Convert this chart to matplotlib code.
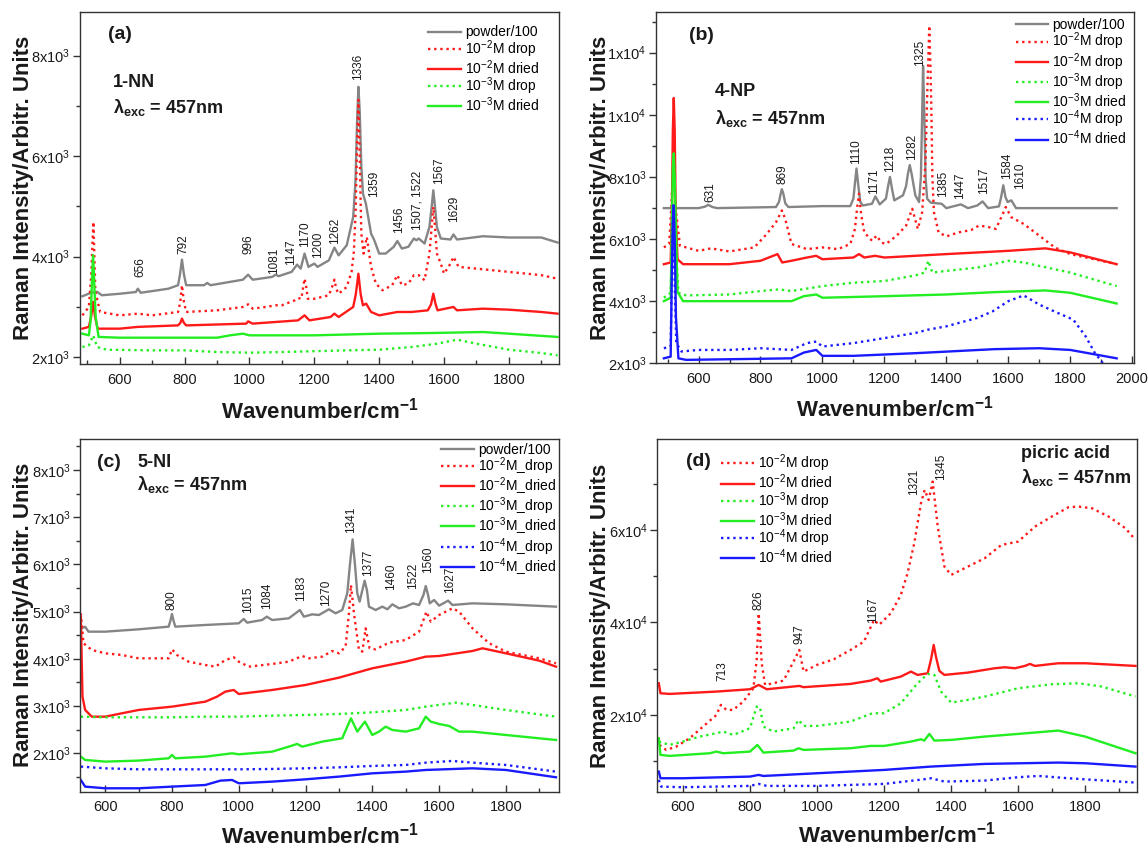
"""
Raman spectra of 1-NN, 4-NP, 5-NI and picric acid (drop vs dried), 457 nm excitation
"""
import matplotlib

matplotlib.use("Agg")
import matplotlib.pyplot as plt
import numpy as np
from matplotlib.ticker import MultipleLocator

plt.rcParams["font.family"] = ["Liberation Sans", "DejaVu Sans"]
plt.rcParams["mathtext.fontset"] = "custom"
plt.rcParams["mathtext.rm"] = "Liberation Sans"
plt.rcParams["mathtext.it"] = "Liberation Sans:italic"
plt.rcParams["mathtext.bf"] = "Liberation Sans:bold"

# ---------------------------------------------------------------- panel (a) 1-NN
a_powder = [(485, 3210), (510, 3275), (530, 3300), (545, 3230), (600, 3260), (650, 3295),
            (656, 3360), (665, 3280), (750, 3360), (780, 3430), (786, 3650), (792, 3940),
            (798, 3650), (805, 3430), (860, 3430), (870, 3475), (880, 3430), (980, 3540),
            (996, 3640), (1010, 3540), (1070, 3595), (1081, 3640), (1090, 3610), (1130, 3695),
            (1147, 3840), (1158, 3760), (1170, 4060), (1182, 3795), (1200, 3860), (1210, 3795),
            (1245, 3925), (1262, 4180), (1275, 4025), (1300, 4225), (1320, 4790), (1327, 5500),
            (1332, 6700), (1336, 7380), (1340, 6900), (1345, 5800), (1350, 5255), (1359, 5055),
            (1375, 4460), (1385, 4325), (1400, 4060), (1420, 4060), (1445, 4195), (1456, 4310),
            (1470, 4160), (1490, 4195), (1507, 4360), (1515, 4325), (1522, 4360), (1540, 4260),
            (1555, 4590), (1562, 5000), (1567, 5320), (1572, 5000), (1578, 4590), (1590, 4360),
            (1620, 4340), (1629, 4440), (1640, 4340), (1720, 4405), (1800, 4380), (1900, 4380),
            (1950, 4280)]
a_drop2 = [(485, 2830), (505, 2995), (512, 3600), (519, 4690), (525, 3300), (540, 2897),
           (600, 2830), (656, 2864), (700, 2830), (780, 2897), (787, 3100), (792, 3430),
           (798, 3100), (805, 2897), (900, 2930), (980, 2997), (996, 3050), (1010, 2963),
           (1050, 2997), (1081, 3030), (1100, 3030), (1140, 3130), (1150, 3175), (1160, 3160),
           (1166, 3400), (1170, 3560), (1175, 3400), (1180, 3160), (1200, 3160), (1245, 3230),
           (1258, 3450), (1262, 3540), (1268, 3350), (1275, 3260), (1300, 3395), (1315, 3700),
           (1322, 4100), (1328, 5000), (1332, 6300), (1336, 7120), (1340, 6000), (1345, 4460),
           (1352, 4060), (1362, 4390), (1375, 3795), (1390, 3460), (1410, 3330), (1440, 3430),
           (1456, 3630), (1470, 3430), (1490, 3460), (1507, 3630), (1522, 3630), (1540, 3530),
           (1555, 4060), (1562, 4600), (1567, 4990), (1572, 4600), (1578, 4060), (1590, 3860),
           (1600, 3660), (1620, 3860), (1629, 3995), (1645, 3795), (1700, 3760), (1800, 3695),
           (1900, 3630), (1950, 3560)]
a_dried2 = [(485, 2565), (505, 2600), (512, 2800), (518, 3100), (524, 2800), (532, 2565),
            (600, 2565), (656, 2600), (780, 2630), (787, 2680), (792, 2765), (798, 2680),
            (805, 2630), (990, 2665), (996, 2710), (1010, 2665), (1150, 2730), (1170, 2830),
            (1185, 2730), (1250, 2797), (1262, 2864), (1275, 2797), (1320, 2997), (1328, 3250),
            (1336, 3660), (1343, 3250), (1350, 3030), (1360, 3063), (1375, 2897), (1400, 2830),
            (1456, 2897), (1500, 2897), (1550, 2930), (1560, 3050), (1567, 3262), (1574, 3050),
            (1580, 2930), (1629, 2997), (1640, 2930), (1720, 2963), (1800, 2943), (1900, 2897),
            (1950, 2864)]
a_drop3 = [(485, 2200), (505, 2233), (513, 2350), (518, 2432), (523, 2350), (530, 2200),
           (560, 2146), (700, 2133), (800, 2133), (900, 2100), (1000, 2086), (1100, 2100),
           (1300, 2133), (1400, 2146), (1500, 2200), (1580, 2266), (1640, 2346), (1700, 2266),
           (1800, 2146), (1900, 2080), (1950, 2033)]
a_dried3 = [(485, 2465), (505, 2432), (510, 2700), (514, 3400), (518, 4027), (522, 3400),
            (526, 2797), (535, 2400), (600, 2385), (900, 2385), (940, 2432), (980, 2465),
            (1000, 2432), (1200, 2432), (1400, 2465), (1560, 2478), (1720, 2498), (1800, 2465),
            (1950, 2400)]
a_peak_text = ["656", "792", "996", "1081", "1147", "1170", "1200", "1262", "1336", "1359",
               "1456", "1507, 1522", "1567", "1629"]
a_peak_x = [663, 795, 998, 1077, 1128, 1170, 1211, 1264, 1334, 1384, 1461, 1518, 1585, 1630]
a_peak_y = [3595, 4047, 4047, 3648, 3827, 4193, 3980, 4260, 7515, 5190, 4460, 4525, 5455, 4690]
a_yticks = [2000, 4000, 6000, 8000]
a_yticklabels = [r"2x10$^{3}$", r"4x10$^{3}$", r"6x10$^{3}$", r"8x10$^{3}$"]

# ---------------------------------------------------------------- panel (b) 4-NP
b_powder = [(488, 6995), (600, 6995), (620, 7040), (631, 7100), (645, 7030), (660, 6995),
            (850, 7030), (860, 7200), (865, 7450), (869, 7605), (874, 7450), (880, 7150),
            (890, 7030), (1000, 7060), (1090, 7060), (1100, 7300), (1105, 7800), (1110, 8270),
            (1115, 7800), (1122, 7200), (1130, 7080), (1160, 7135), (1171, 7375), (1185, 7115),
            (1205, 7300), (1212, 7700), (1218, 8000), (1225, 7600), (1232, 7245), (1260, 7405),
            (1270, 7700), (1276, 8100), (1282, 8380), (1288, 8100), (1300, 7405), (1312, 7190),
            (1318, 8000), (1322, 10000), (1325, 11570), (1329, 10000), (1333, 8000), (1338, 7300),
            (1350, 7170), (1385, 7135), (1400, 6995), (1447, 7115), (1470, 6995), (1500, 7080),
            (1517, 7210), (1535, 6995), (1570, 7050), (1577, 7350), (1584, 7730), (1591, 7350),
            (1598, 7190), (1610, 7245), (1625, 6995), (1700, 6995), (1950, 6995)]
b_drop2 = [(488, 5730), (505, 5840), (512, 7000), (519, 8500), (526, 7000), (540, 5785),
           (600, 5620), (640, 5700), (700, 5600), (780, 5730), (820, 6160), (850, 6540),
           (869, 6920), (880, 6650), (900, 5840), (950, 5675), (1000, 5730), (1050, 5675),
           (1090, 5840), (1105, 6325), (1112, 7000), (1118, 7460), (1125, 6800), (1135, 6215),
           (1160, 5945), (1175, 6110), (1190, 5890), (1205, 5840), (1240, 6110), (1270, 6430),
           (1290, 6975), (1308, 6325), (1322, 6865), (1333, 8500), (1338, 10540), (1345, 12865),
           (1349, 11500), (1352, 10000), (1355, 8000), (1360, 6865), (1375, 6215), (1400, 6085),
           (1440, 6215), (1480, 6290), (1505, 6430), (1530, 6400), (1560, 6325), (1580, 6755),
           (1592, 7030), (1610, 6700), (1650, 6485), (1700, 6110), (1750, 5730), (1800, 5515),
           (1900, 5300), (1950, 5190)]
b_dried2 = [(488, 5190), (510, 5245), (514, 7000), (517, 9500), (520, 10540), (523, 9500),
            (526, 7000), (532, 5350), (550, 5190), (700, 5190), (800, 5300), (855, 5515),
            (870, 5245), (900, 5300), (950, 5405), (980, 5460), (1000, 5350), (1100, 5405),
            (1118, 5515), (1135, 5405), (1170, 5460), (1200, 5405), (1400, 5515), (1600, 5620),
            (1720, 5700), (1800, 5570), (1950, 5190)]
b_drop3 = [(488, 4110), (510, 4270), (515, 6000), (520, 7000), (525, 6000), (535, 4270),
           (560, 4185), (700, 4215), (800, 4325), (860, 4380), (900, 4325), (1000, 4485),
           (1100, 4595), (1200, 4650), (1300, 4830), (1330, 4920), (1342, 5300), (1355, 4920),
           (1400, 4975), (1500, 5080), (1600, 5300), (1650, 5245), (1700, 5135), (1800, 4920),
           (1950, 4485)]
b_dried3 = [(488, 4000), (510, 4110), (514, 6500), (517, 8300), (520, 8760), (523, 8000),
            (526, 6760), (532, 4300), (550, 4000), (900, 4000), (940, 4160), (980, 4215),
            (1000, 4110), (1200, 4160), (1400, 4215), (1555, 4290), (1720, 4345), (1800, 4270),
            (1950, 3925)]
b_drop4 = [(488, 2485), (510, 2540), (514, 5000), (518, 7080), (522, 5000), (528, 2650),
           (545, 2380), (600, 2430), (700, 2430), (800, 2485), (900, 2430), (950, 2650),
           (980, 2700), (1000, 2540), (1100, 2650), (1200, 2810), (1300, 2975), (1340, 3080),
           (1400, 3190), (1500, 3460), (1550, 3675), (1600, 4000), (1650, 4185), (1700, 3890),
           (1760, 3620), (1810, 3405), (1850, 2865), (1880, 2325), (1910, 1950), (1950, 1890)]
b_dried4 = [(488, 2160), (510, 2215), (514, 5000), (517, 6500), (520, 7080), (523, 6000),
            (527, 3500), (535, 2160), (560, 2110), (900, 2160), (940, 2345), (980, 2430),
            (1000, 2240), (1100, 2240), (1300, 2325), (1555, 2455), (1700, 2485), (1800, 2430),
            (1950, 2160)]
b_peak_text = ["631", "869", "1110", "1171", "1218", "1282", "1325", "1385", "1447", "1517",
               "1584", "1610"]
b_peak_x = [638, 872, 1110, 1167, 1217, 1288, 1315, 1389, 1445, 1522, 1595, 1637]
b_peak_y = [7190, 7785, 8430, 7460, 8160, 8540, 11570, 7350, 7300, 7460, 7945, 7620]
b_yticks = [2000, 4000, 6000, 8000, 10000, 12000]
b_yticklabels = [r"2x10$^{3}$", r"4x10$^{3}$", r"6x10$^{3}$", r"8x10$^{3}$",
                 r"1x10$^{4}$", r"1x10$^{4}$"]

# ---------------------------------------------------------------- panel (c) 5-NI
c_powder = [(529, 4647), (540, 4680), (550, 4576), (600, 4576), (700, 4626), (790, 4682),
            (795, 4800), (800, 4950), (805, 4800), (810, 4682), (900, 4718), (1000, 4753),
            (1015, 4845), (1025, 4767), (1070, 4823), (1084, 4894), (1100, 4823), (1150, 4859),
            (1170, 4965), (1183, 5035), (1195, 4894), (1220, 4943), (1240, 4929), (1270, 5050),
            (1290, 4965), (1310, 5035), (1325, 5388), (1333, 6000), (1341, 6530), (1348, 6000),
            (1355, 5388), (1362, 5212), (1370, 5450), (1377, 5656), (1384, 5450), (1390, 5106),
            (1410, 5035), (1430, 5106), (1445, 5050), (1460, 5155), (1480, 5071), (1500, 5106),
            (1522, 5176), (1540, 5141), (1553, 5350), (1560, 5543), (1567, 5350), (1572, 5176),
            (1585, 5247), (1600, 5127), (1627, 5233), (1640, 5141), (1700, 5176), (1800, 5155),
            (1950, 5106)]
c_drop2 = [(527, 4965), (535, 4330), (560, 4188), (600, 4118), (650, 4082), (700, 4012),
           (790, 4012), (800, 4202), (815, 4082), (850, 3941), (900, 3870), (930, 3835),
           (960, 3976), (985, 4033), (1000, 3941), (1030, 3835), (1100, 3892), (1150, 3941),
           (1190, 4061), (1210, 4012), (1250, 4047), (1280, 4167), (1300, 4118), (1320, 4259),
           (1330, 4965), (1336, 5565), (1345, 4965), (1360, 4188), (1370, 4153), (1380, 4647),
           (1392, 4224), (1410, 4202), (1450, 4343), (1500, 4400), (1540, 4576), (1555, 4859),
           (1562, 5000), (1575, 4788), (1600, 4929), (1640, 5071), (1660, 5000), (1700, 4647),
           (1750, 4330), (1800, 4153), (1900, 4012), (1950, 3906)]
c_dried2 = [(527, 4894), (532, 3200), (540, 2918), (560, 2776), (600, 2776), (700, 2918),
            (800, 2988), (900, 3094), (935, 3200), (960, 3306), (985, 3341), (1000, 3256),
            (1100, 3341), (1200, 3447), (1300, 3602), (1400, 3800), (1500, 3941), (1560, 4047),
            (1600, 4061), (1700, 4167), (1730, 4224), (1800, 4118), (1900, 3962), (1950, 3835)]
c_drop3 = [(527, 2776), (600, 2762), (700, 2762), (800, 2762), (900, 2776), (1000, 2776),
           (1100, 2798), (1200, 2812), (1300, 2833), (1400, 2868), (1500, 2918), (1560, 2988),
           (1650, 3073), (1700, 3024), (1800, 2918), (1950, 2776)]
c_dried3 = [(527, 1929), (540, 1859), (600, 1824), (700, 1845), (790, 1894), (800, 1965),
            (810, 1894), (900, 1929), (980, 2000), (1000, 1979), (1100, 2035), (1150, 2141),
            (1175, 2198), (1190, 2141), (1250, 2247), (1310, 2318), (1325, 2565), (1336, 2741),
            (1355, 2459), (1378, 2671), (1400, 2388), (1420, 2459), (1440, 2565), (1460, 2494),
            (1500, 2459), (1540, 2529), (1560, 2776), (1575, 2671), (1600, 2621), (1630, 2579),
            (1660, 2459), (1700, 2459), (1800, 2388), (1950, 2282)]
c_drop4 = [(527, 1718), (600, 1682), (700, 1661), (800, 1661), (900, 1661), (1000, 1661),
           (1100, 1668), (1200, 1682), (1300, 1703), (1400, 1732), (1500, 1753), (1560, 1802),
           (1640, 1838), (1700, 1802), (1800, 1753), (1950, 1612)]
c_dried4 = [(527, 1435), (540, 1294), (600, 1259), (700, 1259), (900, 1329), (945, 1421),
            (980, 1435), (1000, 1365), (1100, 1400), (1200, 1449), (1300, 1506), (1400, 1576),
            (1500, 1612), (1560, 1647), (1700, 1682), (1800, 1647), (1950, 1492)]
c_peak_text = ["800", "1015", "1084", "1183", "1270", "1341", "1377", "1460", "1522", "1560",
               "1627"]
c_peak_x = [799, 1027, 1086, 1187, 1262, 1336, 1386, 1456, 1523, 1567, 1633]
c_peak_y = [5035, 4965, 5050, 5226, 5120, 6659, 5755, 5459, 5473, 5826, 5388]
c_yticks = [2000, 3000, 4000, 5000, 6000, 7000, 8000]
c_yticklabels = [r"2x10$^{3}$", r"3x10$^{3}$", r"4x10$^{3}$", r"5x10$^{3}$",
                 r"6x10$^{3}$", r"7x10$^{3}$", r"8x10$^{3}$"]

# ---------------------------------------------------------------- panel (d) picric acid
d_drop2 = [(530, 13514), (550, 12432), (580, 13153), (620, 14955), (660, 17477), (700, 20000),
           (713, 22162), (730, 21081), (750, 21081), (780, 22883), (810, 25766), (820, 31892),
           (826, 41982), (835, 31171), (845, 26486), (870, 26847), (900, 27423), (935, 32252),
           (947, 34054), (960, 29369), (1000, 30811), (1050, 32036), (1100, 34054),
           (1140, 35856), (1170, 40540), (1185, 39459), (1220, 41982), (1250, 45946),
           (1270, 50631), (1290, 57117), (1310, 65766), (1321, 68649), (1333, 66486),
           (1345, 70450), (1360, 60720), (1380, 52072), (1400, 50270), (1450, 52072),
           (1500, 53874), (1550, 56757), (1600, 57477), (1650, 60720), (1700, 62883),
           (1750, 64900), (1780, 65045), (1820, 64685), (1870, 62883), (1920, 60360),
           (1950, 57838)]
d_dried2 = [(528, 26847), (533, 24685), (560, 24540), (700, 25045), (800, 25550), (826, 26486),
            (850, 25550), (947, 26270), (960, 26000), (1100, 26700), (1160, 27423),
            (1180, 27928), (1190, 27207), (1250, 28288), (1280, 29369), (1300, 28650),
            (1330, 29009), (1340, 32000), (1348, 35135), (1355, 32500), (1365, 29500),
            (1380, 28650), (1450, 29153), (1530, 30090), (1560, 30306), (1590, 30090),
            (1620, 30594), (1635, 31027), (1650, 30594), (1720, 31171), (1800, 31171),
            (1950, 30594)]
d_drop3 = [(528, 14234), (560, 13514), (600, 14234), (650, 15315), (700, 16036), (720, 16396),
           (750, 15675), (800, 17117), (820, 21802), (830, 21658), (840, 17477), (870, 16396),
           (930, 17117), (945, 18919), (960, 17622), (1000, 17622), (1100, 18559),
           (1165, 20360), (1200, 20360), (1250, 22522), (1300, 26847), (1330, 28864),
           (1350, 28648), (1370, 25045), (1400, 22667), (1450, 23243), (1500, 23964),
           (1600, 25766), (1700, 26630), (1780, 26847), (1850, 26126), (1950, 23964)]
d_dried3 = [(528, 14955), (533, 11351), (560, 11135), (680, 11712), (700, 12072), (720, 11712),
            (800, 12072), (822, 13514), (840, 11856), (930, 12288), (945, 12793), (960, 12432),
            (1100, 12793), (1160, 13297), (1200, 13297), (1280, 14234), (1310, 14738),
            (1320, 14450), (1335, 15892), (1350, 14450), (1400, 14595), (1500, 15315),
            (1600, 15892), (1720, 16613), (1800, 15315), (1950, 11712)]
d_drop4 = [(528, 5946), (535, 4504), (600, 4360), (800, 4649), (826, 5081), (850, 4649),
           (1000, 4649), (1200, 5081), (1320, 6090), (1340, 6306), (1380, 5586), (1500, 5802),
           (1600, 6523), (1660, 6811), (1750, 6306), (1950, 5369)]
d_dried4 = [(528, 7748), (533, 6306), (600, 6306), (800, 6667), (826, 7027), (840, 6800),
            (1000, 7387), (1200, 8108), (1340, 8829), (1500, 9405), (1720, 9694), (1800, 9550),
            (1950, 8829)]
d_peak_text = ["713", "826", "947", "1167", "1321", "1345"]
d_peak_x = [717, 826, 948, 1168, 1290, 1370]
d_peak_y = [27351, 42703, 35351, 39820, 67567, 70810]
d_yticks = [20000, 40000, 60000]
d_yticklabels = [r"2x10$^{4}$", r"4x10$^{4}$", r"6x10$^{4}$"]

# ---------------------------------------------------------------- styles
GREY = "#858585"
RED = "#ff1a1a"
GREEN = "#22ee22"
BLUE = "#1a1aff"
DOT = (0, (1, 1.6))
TEXT_COLOR = "#1a1a1a"


def draw_panel(ax, curves, xlim, ylim, yticks, yticklabels, yminor,
               peak_text, peak_x, peak_y, xlabel_y):
    lines = []
    for data, color, style, label in curves:
        xy = np.array(data, dtype=float)
        (line,) = ax.plot(xy[:, 0], xy[:, 1], color=color, linestyle=style,
                          lw=1.7, label=label)
        lines.append(line)

    for text, x, y in zip(peak_text, peak_x, peak_y):
        ax.text(x, y, text, rotation=90, ha="center", va="bottom", fontsize=8.5,
                color=TEXT_COLOR)

    ax.set_xlim(*xlim)
    ax.set_ylim(*ylim)
    ax.xaxis.set_major_locator(MultipleLocator(200))
    ax.xaxis.set_minor_locator(MultipleLocator(100))
    ax.set_yticks(yticks)
    ax.set_yticklabels(yticklabels)
    ax.yaxis.set_minor_locator(MultipleLocator(yminor))
    ax.tick_params(axis="x", which="both", direction="in", top=False, labelsize=10.5,
                   colors="#333333", labelcolor=TEXT_COLOR, pad=6)
    ax.tick_params(axis="x", which="major", length=5, width=1)
    ax.tick_params(axis="x", which="minor", length=3, width=1)
    ax.tick_params(axis="y", which="both", direction="out", right=False, labelsize=10.5,
                   colors="#333333", labelcolor=TEXT_COLOR, pad=2)
    ax.tick_params(axis="y", which="major", length=5, width=1)
    ax.tick_params(axis="y", which="minor", length=3, width=1)
    for spine in ax.spines.values():
        spine.set_color("#333333")
        spine.set_linewidth(1.0)

    ax.text(0.5, xlabel_y, r"Wavenumber/cm$^{\mathbf{-1}}$", transform=ax.transAxes,
            ha="center", va="center", fontsize=16, fontweight="bold", color=TEXT_COLOR)
    ax.text(-0.118, 0.5, "Raman Intensity/Arbitr. Units", transform=ax.transAxes,
            ha="center", va="center", rotation=90, fontsize=16, fontweight="bold",
            color=TEXT_COLOR)
    return lines


def add_legend(ax, lines, x, y):
    ax.legend(handles=lines, loc="upper left", bbox_to_anchor=(x, y), frameon=False,
              borderpad=0, borderaxespad=0, handlelength=2.35, handletextpad=0.3,
              labelspacing=-0.1, fontsize=10)


def add_title_text(ax, label, name, lam, x_label, x_text, y_label, y_name, y_lam):
    ax.text(x_label, y_label, label, transform=ax.transAxes, ha="left", va="center",
            fontsize=14, fontweight="bold", color=TEXT_COLOR)
    ax.text(x_text, y_name, name, transform=ax.transAxes, ha="left", va="center",
            fontsize=13, fontweight="bold", color=TEXT_COLOR)
    ax.text(x_text, y_lam, lam, transform=ax.transAxes, ha="left", va="center",
            fontsize=13, fontweight="bold", color=TEXT_COLOR)


LAMBDA = r"λ$_{\mathbf{exc}}$ = 457nm"

fig = plt.figure(figsize=(11.48, 8.51), dpi=100)
ax_a = fig.add_axes([0.0695, 0.5719, 0.4173, 0.4140])
ax_b = fig.add_axes([0.5718, 0.5731, 0.4160, 0.4125])
ax_c = fig.add_axes([0.0701, 0.0697, 0.4171, 0.4144])
ax_d = fig.add_axes([0.5727, 0.0697, 0.4173, 0.4141])

# (a)
lines = draw_panel(
    ax_a,
    [(a_powder, GREY, "-", "powder/100"),
     (a_drop2, RED, DOT, r"10$^{-2}$M drop"),
     (a_dried2, RED, "-", r"10$^{-2}$M dried"),
     (a_drop3, GREEN, DOT, r"10$^{-3}$M drop"),
     (a_dried3, GREEN, "-", r"10$^{-3}$M dried")],
    (477, 1954), (1855, 8870), a_yticks, a_yticklabels, 1000,
    a_peak_text, a_peak_x, a_peak_y, -0.13)
add_legend(ax_a, lines, 0.727, 0.962)
add_title_text(ax_a, "(a)", "1-NN", LAMBDA, 0.059, 0.070, 0.9375, 0.80, 0.73)

# (b)
lines = draw_panel(
    ax_b,
    [(b_powder, GREY, "-", "powder/100"),
     (b_drop2, RED, DOT, r"10$^{-2}$M drop"),
     (b_dried2, RED, "-", r"10$^{-2}$M drop"),
     (b_drop3, GREEN, DOT, r"10$^{-3}$M drop"),
     (b_dried3, GREEN, "-", r"10$^{-3}$M dried"),
     (b_drop4, BLUE, DOT, r"10$^{-4}$M drop"),
     (b_dried4, BLUE, "-", r"10$^{-4}$M dried")],
    (464, 2006), (2000, 13300), b_yticks, b_yticklabels, 1000,
    b_peak_text, b_peak_x, b_peak_y, -0.13)
add_legend(ax_b, lines, 0.752, 0.983)
add_title_text(ax_b, "(b)", "4-NP", LAMBDA, 0.069, 0.1225, 0.935, 0.774, 0.696)

# (c)
lines = draw_panel(
    ax_c,
    [(c_powder, GREY, "-", "powder/100"),
     (c_drop2, RED, DOT, r"10$^{-2}$M_drop"),
     (c_dried2, RED, "-", r"10$^{-2}$M_dried"),
     (c_drop3, GREEN, DOT, r"10$^{-3}$M_drop"),
     (c_dried3, GREEN, "-", r"10$^{-3}$M_dried"),
     (c_drop4, BLUE, DOT, r"10$^{-4}$M_drop"),
     (c_dried4, BLUE, "-", r"10$^{-4}$M_dried")],
    (526, 1960), (1187, 8656), c_yticks, c_yticklabels, 500,
    c_peak_text, c_peak_x, c_peak_y, -0.123)
add_legend(ax_c, lines, 0.753, 0.99)
add_title_text(ax_c, "(c)", "5-NI", LAMBDA, 0.0345, 0.1186, 0.934, 0.934, 0.870)

# (d)
lines = draw_panel(
    ax_d,
    [(d_drop2, RED, DOT, r"10$^{-2}$M drop"),
     (d_dried2, RED, "-", r"10$^{-2}$M dried"),
     (d_drop3, GREEN, DOT, r"10$^{-3}$M drop"),
     (d_dried3, GREEN, "-", r"10$^{-3}$M dried"),
     (d_drop4, BLUE, DOT, r"10$^{-4}$M drop"),
     (d_dried4, BLUE, "-", r"10$^{-4}$M dried")],
    (524, 1953), (3400, 79600), d_yticks, d_yticklabels, 10000,
    d_peak_text, d_peak_x, d_peak_y, -0.123)
add_legend(ax_d, lines, 0.1336, 0.962)
add_title_text(ax_d, "(d)", "picric acid", LAMBDA, 0.0587, 0.7593, 0.936, 0.960, 0.8915)

fig.savefig("out.png", dpi=100)
